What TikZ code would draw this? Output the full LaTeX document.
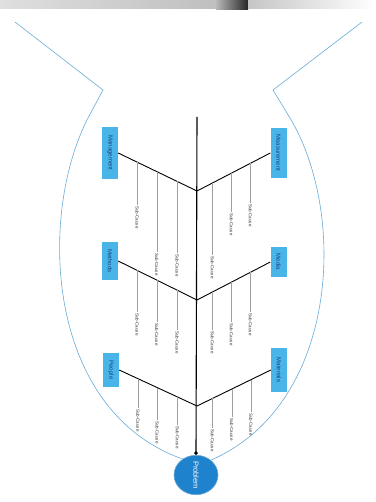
\documentclass[tikz,border=0pt]{standalone}
\usepackage{fontspec}
\setsansfont{Liberation Sans}
\usetikzlibrary{arrows.meta,calc,shapes.geometric}
\definecolor{outline}{RGB}{105,170,215}
\definecolor{boxblue}{RGB}{72,180,232}
\definecolor{boxtext}{RGB}{25,70,130}
\definecolor{probblue}{RGB}{30,130,205}
\tikzset{
  fishline/.style={draw=outline, line width=0.6pt},
  spine/.style={draw=black, line width=1.1pt, -{Circle[length=3.5pt]}},
  bone/.style={draw=black, line width=0.9pt},
  catbox/.style={rectangle, fill=boxblue, text=boxtext, rotate=-90,
    minimum height=16pt, inner sep=0pt, font=\sffamily\fontsize{6}{7}\selectfont},
  subline/.style={draw=gray!75, line width=0.35pt},
  subtext/.style={rotate=-90, anchor=west, inner sep=1pt, text=black!80,
    font=\sffamily\fontsize{4.5}{5}\selectfont},
  probnode/.style={ellipse, fill=probblue, draw=outline, line width=0.6pt,
    minimum width=36pt, minimum height=44pt, inner sep=0pt, text=white,
    font=\sffamily\fontsize{7.5}{9}\selectfont}
}
\begin{document}
\begin{tikzpicture}[x=1pt,y=-1pt]
\useasboundingbox (0,0) rectangle (375,502);

% strip along the top edge
\shade[left color=gray!25, right color=gray!50] (0,0) rectangle (216,9);
\shade[left color=gray!55, right color=black!85] (216,0) rectangle (248,10);
\shade[left color=gray!45, right color=white] (248,0) rectangle (375,9);

% fish outline: tail and body
\coordinate (tl1) at (15,22);
\coordinate (tl2) at (103,90);
\coordinate (tl3) at (88,118);
\coordinate (tr1) at (362,22);
\coordinate (tr2) at (273,90);
\coordinate (tr3) at (290,118);

% head (rotated: west = top, east = bottom, south = left, north = right)
\node[probnode, rotate=-90] (prob) at (196,475) {Problem};

\draw[fishline] (tl1) -- (tl2) -- (tl3)
  .. controls (38,215) and (45,410) .. (prob.220);
\draw[fishline] (tr1) -- (tr2) -- (tr3)
  .. controls (348,215) and (338,405) .. (prob.135);

% spine
\coordinate (top) at (197,117);
\draw[spine] (top) -- (prob.west);

% category boxes (rotated: north = right side, south = left side)
\node[catbox, minimum width=52pt] (lt) at (110,153) {Management};
\node[catbox, minimum width=38pt] (lm) at (110,261) {Methods};
\node[catbox, minimum width=34pt] (lb) at (111,370) {People};
\node[catbox, minimum width=50pt] (rt) at (278.5,153) {Measurement};
\node[catbox, minimum width=30pt] (rm) at (278.5,262) {Media};
\node[catbox, minimum width=44pt] (rb) at (279,370) {Materials};

% junctions on the spine
\coordinate (j1) at (197,191);
\coordinate (j2) at (197,300);
\coordinate (j3) at (197,406);

% main bones
\draw[bone] (lt.north) -- (j1);
\draw[bone] (rt.south) -- (j1);
\draw[bone] (lm.north) -- (j2);
\draw[bone] (rm.south) -- (j2);
\draw[bone] (lb.north) -- (j3);
\draw[bone] (rb.south) -- (j3);

% sub-causes: #1 box side, #2 junction, #3 fraction, #4 text top, #5 name
\newcommand{\subcause}[5]{%
  \coordinate (#5p) at ($(#1)!#3!(#2)$);
  \node[subtext] (#5) at (#5p |- 0,#4) {Sub-Cause};
  \draw[subline] (#5p) -- (#5.west);
}
\subcause{lt.north}{j1}{0.24}{205}{a1}
\subcause{lt.north}{j1}{0.49}{252}{a2}
\subcause{lt.north}{j1}{0.75}{253}{a3}
\subcause{rt.south}{j1}{0.27}{203}{b1}
\subcause{rt.south}{j1}{0.53}{212}{b2}
\subcause{rt.south}{j1}{0.79}{255}{b3}
\subcause{lm.north}{j2}{0.24}{312}{c1}
\subcause{lm.north}{j2}{0.49}{322}{c2}
\subcause{lm.north}{j2}{0.75}{330}{c3}
\subcause{rm.south}{j2}{0.27}{312}{d1}
\subcause{rm.south}{j2}{0.53}{322}{d2}
\subcause{rm.south}{j2}{0.79}{330}{d3}
\subcause{lb.north}{j3}{0.24}{408}{e1}
\subcause{lb.north}{j3}{0.49}{420}{e2}
\subcause{lb.north}{j3}{0.75}{425}{e3}
\subcause{rb.south}{j3}{0.27}{412}{f1}
\subcause{rb.south}{j3}{0.53}{417}{f2}
\subcause{rb.south}{j3}{0.79}{428}{f3}
\end{tikzpicture}
\end{document}
